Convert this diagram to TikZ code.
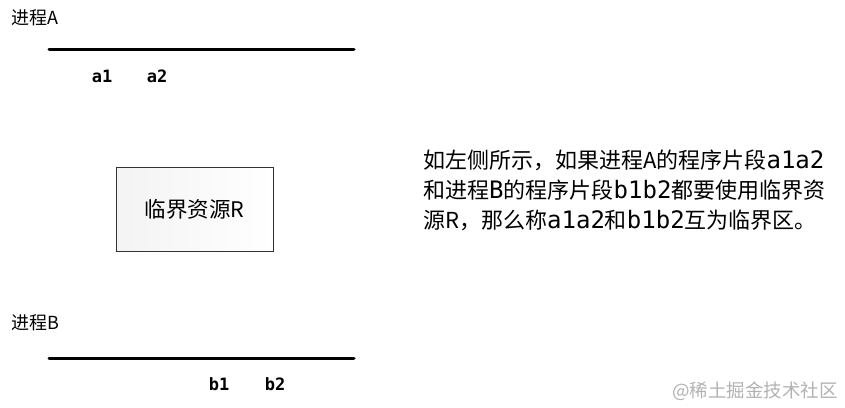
\documentclass[tikz,border=0pt]{standalone}
\usepackage{fontspec}
\setmainfont{Noto Sans CJK SC}
\newfontfamily\segfont{DejaVu Sans Mono}
\usetikzlibrary{positioning}
\tikzset{
  procline/.style={line width=3pt, line cap=round},
  seg/.style={font=\fontsize{17}{17}\segfont\bfseries, inner sep=0pt},
  proc/.style={font=\fontsize{18}{18}\selectfont, inner sep=0pt, anchor=west},
  expl/.style={anchor=west, inner sep=0pt, font=\fontsize{22}{22}\selectfont},
}
\newcommand{\sg}[1]{{\fontsize{24}{24}\segfont #1}}
\begin{document}
\begin{tikzpicture}[x=1pt,y=-1pt]
	\useasboundingbox (0,0) rectangle (845,407);
	% process A
	\node[proc] (pa) at (11,18) {进程A};
	\draw[procline] (49,49) coordinate (a0) -- (354,49) coordinate (a3);
	\node[seg] (a1) at (102,76) {a1};
	\node[seg] (a2) at (157,76) {a2};
	% resource
	\node[draw=black!80, line width=0.6pt, left color=blue!3!gray!9, right color=white,
	  minimum width=157pt, minimum height=84pt, font=\fontsize{21.5}{21.5}\selectfont] (R) at (194.5,209) {临界资源R};
	% process B
	\node[proc] (pb) at (11,323) {进程B};
	\draw[procline] (49,358) coordinate (b0) -- (354,358) coordinate (b3);
	\node[seg] (b1) at (219,384) {b1};
	\node[seg] (b2) at (275,384) {b2};
	% explanation
	\node[expl] (t1) at (423,160) {如左侧所示，如果进程A的程序片段\sg{a1a2}};
	\node[expl] (t2) at (423,190) {和进程\sg{B}的程序片段\sg{b1b2}都要使用临界资};
	\node[expl] (t3) at (423,220) {源R，那么称\sg{a1a2}和\sg{b1b2}互为临界区。};
	% watermark
	\node[anchor=east, inner sep=0pt, text=black!30, font=\fontsize{18.5}{18.5}\selectfont] (wm) at (838,391) {@稀土掘金技术社区};
\end{tikzpicture}
\end{document}
